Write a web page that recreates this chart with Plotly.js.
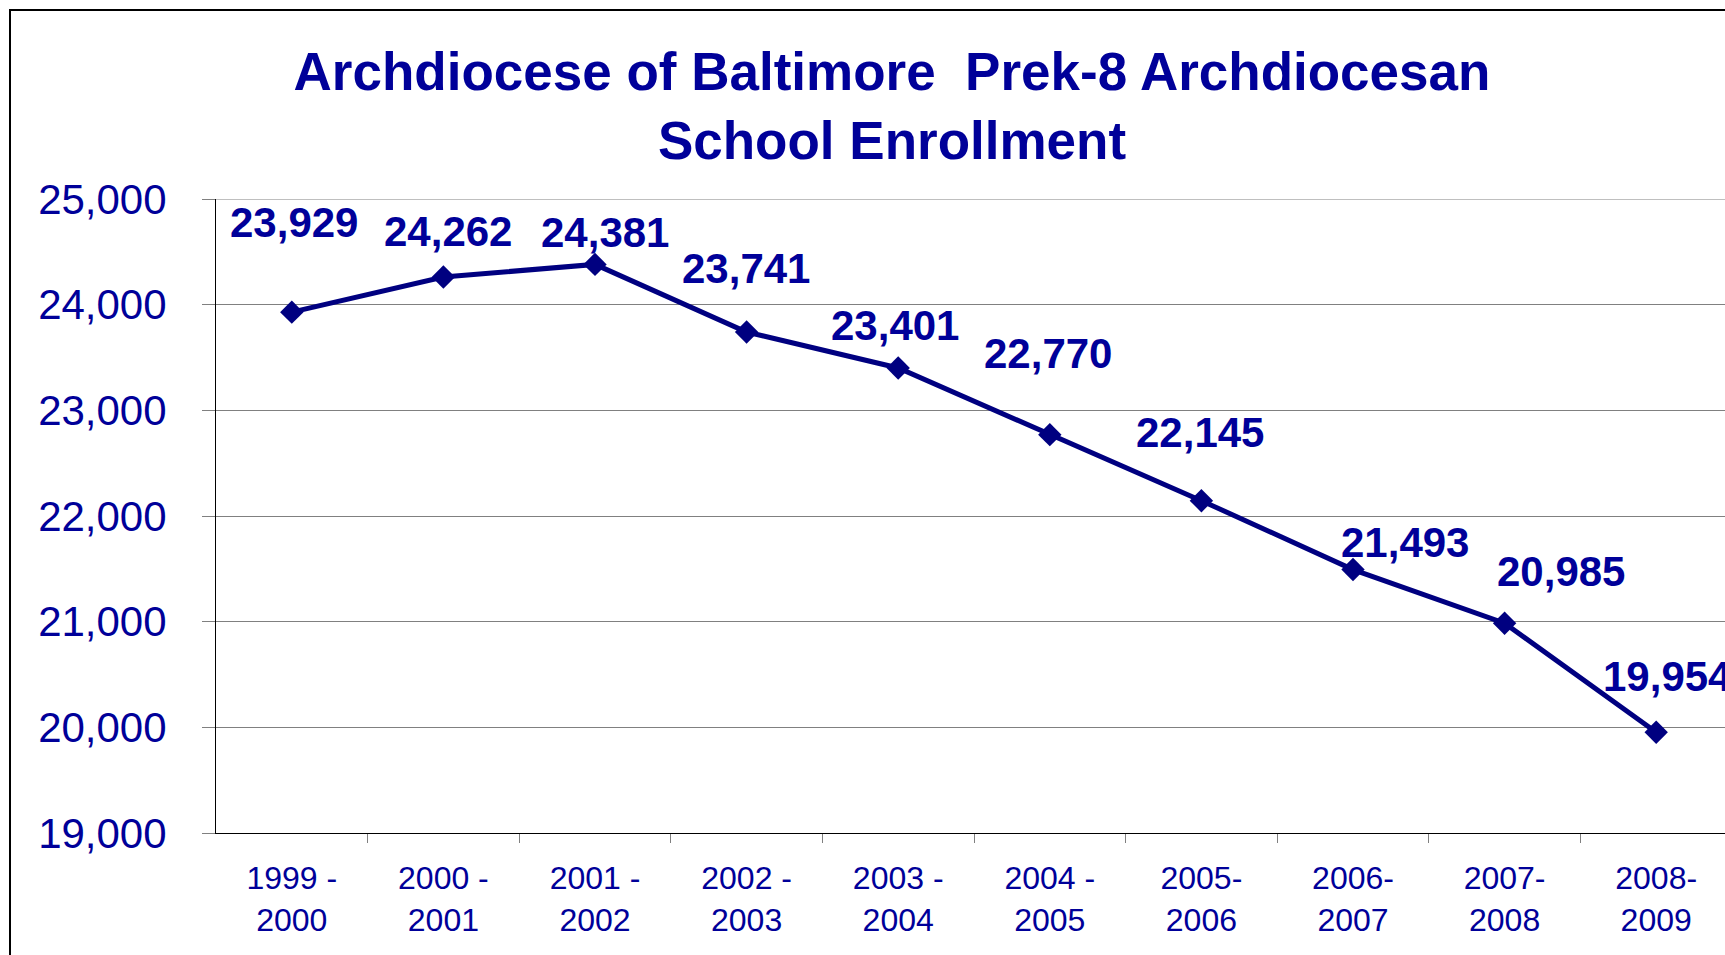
<!DOCTYPE html>
<html>
<head>
<meta charset="utf-8">
<script src="https://cdn.plot.ly/plotly-3.0.1.min.js"></script>
<style>
  html, body { margin: 0; padding: 0; width: 1725px; height: 955px; overflow: hidden; background: #fff; }
  #chart { position: absolute; left: 0; top: 0; width: 1760px; height: 955px; }
  #frame { position: absolute; left: 9px; top: 9px; width: 1800px; height: 1000px; border-top: 2px solid #000; border-left: 2px solid #000; pointer-events: none; }
</style>
</head>
<body>
<div id="chart"></div>
<div id="frame"></div>
<script>
// ---- data ----
const categories = ["1999 -<br>2000", "2000 -<br>2001", "2001 -<br>2002", "2002 -<br>2003", "2003 -<br>2004",
                    "2004 -<br>2005", "2005-<br>2006", "2006-<br>2007", "2007-<br>2008", "2008-<br>2009"];
const enrollment = [23929, 24262, 24381, 23741, 23401, 22770, 22145, 21493, 20985, 19954];
const yTicks = [19000, 20000, 21000, 22000, 23000, 24000, 25000];
const titleText = "Archdiocese of Baltimore  Prek-8 Archdiocesan<br>School Enrollment";

// ---- styling / label placement (pixels) ----
const labelOffsets = [[2, -90], [5, -45], [10, -32], [-1, -64], [-3, -42], [-2, -81], [-1, -68], [52, -27], [56, -52], [11, -56]];
const navy = "#000080";
const textBlue = "#000099";
const FONT = "'Liberation Sans', Arial, sans-serif";

const W = 1760, H = 955;
const xIdx = categories.map((_, i) => i);

const trace = {
  x: xIdx,
  y: enrollment,
  type: "scatter",
  mode: "lines+markers",
  line: { color: navy, width: 5 },
  marker: { symbol: "diamond", size: 18, color: navy },
  hoverinfo: "skip",
  cliponaxis: false
};

const annotations = enrollment.map((v, i) => ({
  x: i, y: v, xref: "x", yref: "y",
  text: v.toLocaleString("en-US"),
  showarrow: true, arrowcolor: "rgba(0,0,0,0)", arrowwidth: 0.1,
  ax: labelOffsets[i][0], ay: labelOffsets[i][1],
  xanchor: "center", yanchor: "middle",
  font: { family: FONT, size: 42, color: textBlue, weight: "bold" }
}));

const layout = {
  width: W, height: H,
  margin: { l: 216, r: 28, t: 199, b: 122, pad: 0 },
  paper_bgcolor: "#fff", plot_bgcolor: "#fff",
  showlegend: false,
  title: {
    text: "<b>" + titleText + "</b>",
    font: { family: FONT, size: 53, color: textBlue },
    xref: "container", yref: "container",
    x: 892 / W, xanchor: "center",
    y: 1 - 90 / H, yanchor: "middle"
  },
  shapes: [{
    type: "line", xref: "paper", yref: "y",
    x0: 0, x1: 1, y0: 25000, y1: 25000,
    line: { color: "#808080", width: 1 },
    layer: "below"
  }],
  xaxis: {
    type: "linear",
    range: [-0.5, 9.5],
    tickmode: "array",
    tickvals: xIdx,
    ticktext: categories,
    showgrid: false,
    zeroline: false,
    showline: true, linecolor: "#000", linewidth: 1,
    ticks: "",
    tickfont: { family: FONT, size: 32, color: textBlue },
    ticklabelstandoff: 17,
    fixedrange: true
  },
  xaxis2: {
    overlaying: "x", matches: "x",
    range: [-0.5, 9.5],
    tickmode: "array",
    tickvals: xIdx.map(i => i + 0.5).slice(0, 9),
    showticklabels: false,
    showgrid: false, zeroline: false,
    ticks: "outside", ticklen: 9, tickcolor: "#808080", tickwidth: 1
  },
  yaxis: {
    range: [19000, 25000],
    tickmode: "array",
    tickvals: yTicks,
    tickformat: ",d",
    showgrid: true, gridcolor: "#808080", gridwidth: 1,
    zeroline: false,
    showline: true, linecolor: "#000", linewidth: 1,
    ticks: "outside", ticklen: 13, tickcolor: "#808080", tickwidth: 1,
    tickfont: { family: FONT, size: 42, color: textBlue },
    ticklabelstandoff: 27,
    fixedrange: true
  },
  annotations: annotations
};

const tickHolder = {
  x: [0], y: [19000], xaxis: "x2", yaxis: "y",
  type: "scatter", mode: "none", hoverinfo: "skip", showlegend: false
};

Plotly.newPlot("chart", [tickHolder, trace], layout, { displayModeBar: false, staticPlot: true });
</script>
</body>
</html>
